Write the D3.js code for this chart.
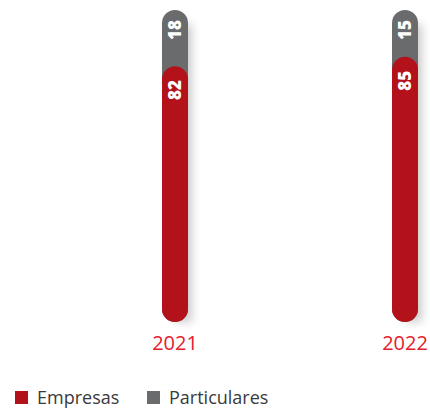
<!DOCTYPE html>
<html><head><meta charset="utf-8">
<script src="https://cdn.jsdelivr.net/npm/d3@7"></script>
<style>body{margin:0;background:#fff}svg{display:block}</style>
</head><body>
<script>
const years = ["2021", "2022"];
const empresas = [82, 85];
const particulares = [18, 15];
const seriesNames = ["Empresas", "Particulares"];
const colors = ["#b3121b", "#6a6b6d"];

const W = 430, H = 410;
const svg = d3.select("body").append("svg").attr("width", W).attr("height", H);
const defs = svg.append("defs");
const f = defs.append("filter").attr("id", "sh").attr("x", "-100%").attr("y", "-20%").attr("width", "300%").attr("height", "140%");
f.append("feGaussianBlur").attr("stdDeviation", 5);

const x = d3.scalePoint().domain(years).range([175, 405]);
const y = d3.scaleLinear().domain([0, 100]).range([322, 10]);
const bw = 26;

const data = years.map((yr, i) => ({yr, e: empresas[i], p: particulares[i]}));

const g = svg.selectAll("g.bar").data(data).enter().append("g");
// shadow
g.append("rect")
  .attr("x", d => x(d.yr) - bw / 2 + 12)
  .attr("y", d => y(100) + 14)
  .attr("width", 18)
  .attr("height", d => y(0) - y(100) - 14)
  .attr("fill", "#000").attr("opacity", 0.2)
  .attr("filter", "url(#sh)");
// gray full pill
g.append("rect")
  .attr("x", d => x(d.yr) - bw / 2)
  .attr("y", d => y(d.e + d.p))
  .attr("width", bw)
  .attr("height", d => y(0) - y(d.e + d.p))
  .attr("rx", bw / 2)
  .attr("fill", colors[1]);
// red pill
g.append("rect")
  .attr("x", d => x(d.yr) - bw / 2)
  .attr("y", d => y(d.e))
  .attr("width", bw)
  .attr("height", d => y(0) - y(d.e))
  .attr("rx", bw / 2)
  .attr("fill", colors[0]);
// labels
g.append("text")
  .attr("transform", d => `translate(${x(d.yr) + 6},${y(d.e + d.p) + 10}) rotate(-90)`)
  .attr("text-anchor", "end")
  .attr("font-family", "Open Sans").attr("font-weight", 800).attr("font-size", 17)
  .attr("fill", "#fff")
  .text(d => d.p);
g.append("text")
  .attr("transform", d => `translate(${x(d.yr) + 6},${y(d.e) + 14}) rotate(-90)`)
  .attr("text-anchor", "end")
  .attr("font-family", "Open Sans").attr("font-weight", 800).attr("font-size", 17)
  .attr("fill", "#fff")
  .text(d => d.e);
// year labels
g.append("text")
  .attr("x", d => x(d.yr)).attr("y", 350)
  .attr("text-anchor", "middle")
  .attr("font-family", "Open Sans").attr("font-size", 20)
  .attr("fill", "#e5202b")
  .text(d => d.yr);

// legend
const lg = svg.append("g");
const legX = [15, 147];
seriesNames.forEach((n, i) => {
  lg.append("rect").attr("x", legX[i]).attr("y", 391).attr("width", 13).attr("height", 13).attr("fill", colors[i]);
  lg.append("text").attr("x", legX[i] + 22).attr("y", 404)
    .attr("font-family", "Open Sans").attr("font-size", 18).attr("fill", "#3a3a3a")
    .text(n);
});
</script>
</body></html>
